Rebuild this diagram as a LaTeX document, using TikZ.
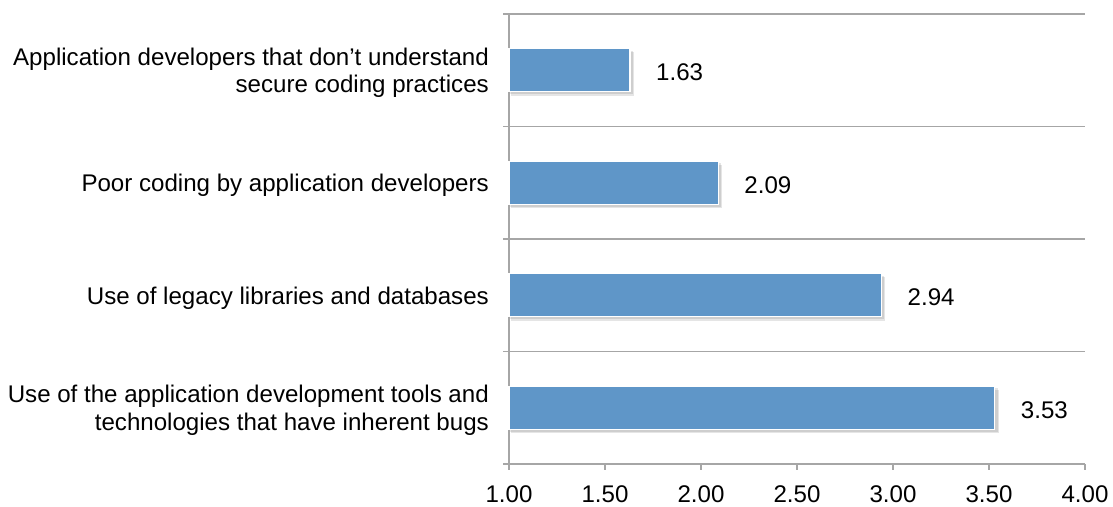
\documentclass[tikz,border=0pt]{standalone}
\usepackage{fontspec}
\setmainfont{Liberation Sans}
\begin{document}
\begin{tikzpicture}[x=1pt,y=-1pt,
  grid/.style={draw=black!35,line width=1.5pt},
  bar/.style={fill=barblue,draw=white,line width=1.3pt},
  shade/.style={fill=black,opacity=0.1,draw=none},
  cat/.style={anchor=east,align=right,font=\fontsize{24.1}{27.5}\selectfont,inner sep=0pt},
  val/.style={anchor=west,font=\fontsize{24.1}{27.5}\selectfont,inner sep=0pt},
  tick/.style={anchor=north,font=\fontsize{24.1}{27.5}\selectfont,inner sep=0pt}]
\definecolor{barblue}{HTML}{5F96C8}
\useasboundingbox (0,0) rectangle (1113,506);
% gridlines
\foreach \y in {14,126.5,239,351.5,464}
  \draw[grid] (503,\y) -- (1085,\y);
\draw[grid] (509,14) -- (509,470);
\foreach \i in {1,...,6}
  \draw[grid] ({509+96*\i},464) -- ({509+96*\i},470);
% tick labels
\foreach \v [count=\i from 0] in {1.00,1.50,2.00,2.50,3.00,3.50,4.00}
  \node[tick] (t\i) at ({509+96*\i},485) {\v};
% bars
\foreach \val/\yc/\n in {1.63/70.25/a,2.09/182.75/b,2.94/295.25/c,3.53/407.75/d}{
  \pgfmathsetmacro{\xe}{509+192*(\val-1)}
  \fill[shade] (511,\yc-18) rectangle (\xe+4,\yc+25.5);
  \fill[shade] (510,\yc-19.5) rectangle (\xe+3,\yc+24);
  \draw[bar] (509,\yc-21.5) rectangle (\xe,\yc+21.5);
  \coordinate (e\n) at (\xe,\yc);
  \node[val] (v\n) at ([xshift=26pt,yshift=-2pt]e\n) {\val};
}
% category labels
\node[cat] (ca) at (489,73) {Application developers that don’t understand\\secure coding practices};
\node[cat] (cb) at (489,185.5) {Poor coding by application developers};
\node[cat] (cc) at (489,298) {Use of legacy libraries and databases};
\node[cat] (cd) at (489,410.5) {Use of the application development tools and\\technologies that have inherent bugs};
\end{tikzpicture}
\end{document}
